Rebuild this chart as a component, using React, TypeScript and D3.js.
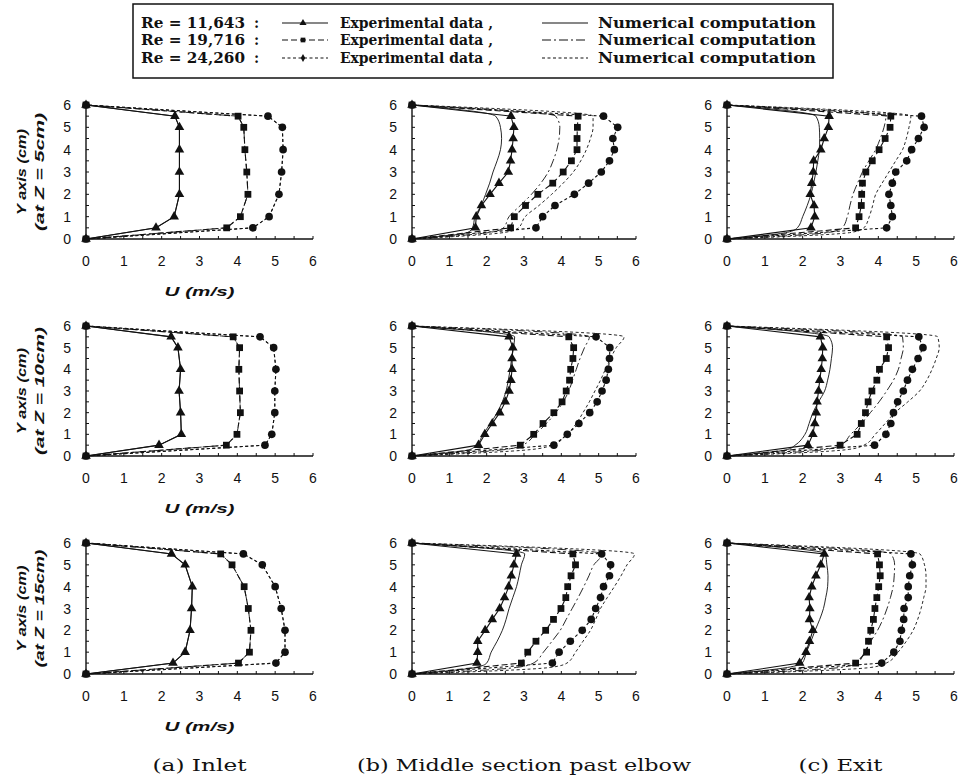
import React from 'react';
import * as d3 from 'd3';

// heights (cm) where the profiles were sampled
const yInlet = [0, 0.5, 1, 2, 3, 4, 5, 5.5, 6];
const yMeas = [0, 0.5, 1, 1.5, 2, 2.5, 3, 3.5, 4, 4.5, 5, 5.5, 6];
const yNum = [0, 0.3, 0.5, 1, 1.5, 2, 2.5, 3, 3.5, 4, 4.5, 5, 5.5, 6];
const axisTicks = [0, 1, 2, 3, 4, 5, 6];

const reNumbers = ['11,643', '19,716', '24,260'];
const zLabels = ['(at Z = 5cm)', '(at Z = 10cm)', '(at Z = 15cm)'];
const captions = ['(a) Inlet', '(b) Middle section past elbow', '(c) Exit'];

// U (m/s) — inlet, Z = 5cm
const z5InletExp1 = [0, 1.85, 2.33, 2.47, 2.47, 2.47, 2.47, 2.35, 0];
const z5InletExp2 = [0, 3.72, 4.08, 4.28, 4.25, 4.2, 4.17, 4.02, 0];
const z5InletExp3 = [0, 4.41, 4.84, 5.1, 5.17, 5.21, 5.19, 4.81, 0];
// middle section, Z = 5cm
const z5MidExp1 = [0, 1.7, 1.72, 1.86, 2.09, 2.33, 2.58, 2.64, 2.68, 2.71, 2.73, 2.65, 0];
const z5MidExp2 = [0, 2.64, 2.74, 3.04, 3.37, 3.77, 4.05, 4.27, 4.42, 4.42, 4.43, 4.45, 0];
const z5MidExp3 = [0, 3.32, 3.5, 3.83, 4.35, 4.73, 5.07, 5.29, 5.42, 5.38, 5.51, 5.13, 0];
const z5MidNum1 = [0, 1.5, 1.62, 1.69, 1.85, 1.97, 2.08, 2.17, 2.28, 2.37, 2.4, 2.37, 2.24, 0];
const z5MidNum2 = [0, 2.1, 2.45, 2.6, 2.9, 3.2, 3.45, 3.65, 3.78, 3.88, 3.94, 3.96, 3.85, 0];
const z5MidNum3 = [0, 2.5, 2.85, 3.03, 3.4, 3.74, 4.05, 4.32, 4.52, 4.67, 4.78, 4.85, 4.85, 0];
// exit, Z = 5cm
const z5ExitExp1 = [0, 2.22, 2.32, 2.3, 2.2, 2.24, 2.28, 2.29, 2.48, 2.57, 2.68, 2.7, 0];
const z5ExitExp2 = [0, 3.4, 3.49, 3.55, 3.56, 3.58, 3.67, 3.84, 4.02, 4.18, 4.31, 4.33, 0];
const z5ExitExp3 = [0, 4.22, 4.37, 4.33, 4.28, 4.37, 4.46, 4.75, 4.88, 5.06, 5.21, 5.14, 0];
const z5ExitNum1 = [0, 1.6, 1.86, 2.0, 2.12, 2.22, 2.29, 2.35, 2.4, 2.44, 2.45, 2.44, 2.35, 0];
const z5ExitNum2 = [0, 2.7, 3.05, 3.18, 3.25, 3.33, 3.45, 3.58, 3.75, 3.93, 4.05, 4.15, 4.2, 0];
const z5ExitNum3 = [0, 3.3, 3.62, 3.76, 3.85, 3.93, 4.1, 4.28, 4.46, 4.64, 4.74, 4.81, 4.86, 0];

// Z = 10cm
const z10InletExp1 = [0, 1.93, 2.52, 2.5, 2.46, 2.5, 2.43, 2.25, 0];
const z10InletExp2 = [0, 3.71, 3.99, 4.08, 4.06, 4.04, 4.06, 3.89, 0];
const z10InletExp3 = [0, 4.73, 4.91, 4.99, 4.99, 5.02, 4.96, 4.6, 0];
const z10MidExp1 = [0, 1.78, 1.95, 2.15, 2.35, 2.5, 2.6, 2.65, 2.68, 2.68, 2.7, 2.6, 0];
const z10MidExp2 = [0, 2.9, 3.26, 3.51, 3.8, 4.02, 4.13, 4.22, 4.25, 4.31, 4.33, 4.2, 0];
const z10MidExp3 = [0, 3.8, 4.16, 4.47, 4.76, 4.96, 5.09, 5.2, 5.26, 5.29, 5.3, 4.93, 0];
const z10MidNum1 = [0, 1.55, 1.72, 1.9, 2.1, 2.28, 2.42, 2.52, 2.58, 2.63, 2.67, 2.72, 2.75, 0];
const z10MidNum2 = [0, 2.5, 2.95, 3.3, 3.6, 3.85, 4.05, 4.2, 4.3, 4.4, 4.5, 4.62, 4.75, 0];
const z10MidNum3 = [0, 3.2, 3.75, 4.15, 4.4, 4.58, 4.75, 4.9, 5.05, 5.18, 5.32, 5.47, 5.68, 0];
const z10ExitExp1 = [0, 2.14, 2.27, 2.32, 2.36, 2.38, 2.42, 2.45, 2.49, 2.52, 2.53, 2.47, 0];
const z10ExitExp2 = [0, 2.99, 3.44, 3.55, 3.66, 3.73, 3.83, 3.96, 4.03, 4.21, 4.27, 4.22, 0];
const z10ExitExp3 = [0, 3.9, 4.2, 4.33, 4.4, 4.51, 4.66, 4.77, 4.9, 5.05, 5.18, 5.07, 0];
const z10ExitNum1 = [0, 1.6, 1.8, 2.06, 2.17, 2.27, 2.42, 2.58, 2.66, 2.72, 2.76, 2.79, 2.7, 0];
const z10ExitNum2 = [0, 2.6, 3.0, 3.27, 3.55, 3.79, 4.02, 4.22, 4.4, 4.53, 4.6, 4.66, 4.64, 0];
const z10ExitNum3 = [0, 3.2, 3.62, 3.92, 4.18, 4.44, 4.78, 5.09, 5.28, 5.42, 5.53, 5.61, 5.57, 0];

// Z = 15cm
const z15InletExp1 = [0, 2.3, 2.62, 2.75, 2.79, 2.81, 2.62, 2.26, 0];
const z15InletExp2 = [0, 4.03, 4.32, 4.36, 4.29, 4.18, 3.86, 3.56, 0];
const z15InletExp3 = [0, 5.02, 5.26, 5.26, 5.16, 5.0, 4.66, 4.16, 0];
const z15MidExp1 = [0, 1.74, 1.76, 1.76, 1.96, 2.15, 2.35, 2.48, 2.59, 2.66, 2.73, 2.8, 0];
const z15MidExp2 = [0, 2.93, 3.1, 3.32, 3.58, 3.79, 3.99, 4.12, 4.17, 4.26, 4.38, 4.31, 0];
const z15MidExp3 = [0, 3.76, 3.94, 4.24, 4.56, 4.8, 4.92, 5.05, 5.13, 5.29, 5.32, 5.08, 0];
const z15MidNum1 = [0, 1.7, 2.0, 2.12, 2.28, 2.42, 2.52, 2.6, 2.7, 2.8, 2.87, 2.93, 3.02, 0];
const z15MidNum2 = [0, 2.8, 3.25, 3.52, 3.75, 3.97, 4.13, 4.29, 4.45, 4.6, 4.74, 4.87, 5.1, 0];
const z15MidNum3 = [0, 3.7, 4.15, 4.38, 4.58, 4.78, 4.92, 5.05, 5.23, 5.42, 5.6, 5.76, 5.96, 0];
const z15ExitExp1 = [0, 1.92, 2.09, 2.18, 2.27, 2.18, 2.19, 2.17, 2.24, 2.35, 2.48, 2.57, 0];
const z15ExitExp2 = [0, 3.4, 3.69, 3.74, 3.8, 3.87, 3.91, 3.96, 4.01, 4.05, 4.03, 3.98, 0];
const z15ExitExp3 = [0, 4.09, 4.41, 4.57, 4.61, 4.67, 4.68, 4.79, 4.79, 4.83, 4.9, 4.86, 0];
const z15ExitNum1 = [0, 1.6, 1.99, 2.1, 2.22, 2.33, 2.45, 2.55, 2.61, 2.66, 2.67, 2.64, 2.6, 0];
const z15ExitNum2 = [0, 3.0, 3.45, 3.63, 3.8, 3.98, 4.12, 4.23, 4.32, 4.39, 4.42, 4.43, 4.34, 0];
const z15ExitNum3 = [0, 3.8, 4.21, 4.52, 4.74, 4.92, 5.04, 5.13, 5.2, 5.26, 5.26, 5.22, 5.1, 0];

// inlet: computed profile is the imposed measured one
const panels = [
  { row: 0, col: 0, expY: yInlet, exp: [z5InletExp1, z5InletExp2, z5InletExp3], numY: yInlet, num: [z5InletExp1, z5InletExp2, z5InletExp3] },
  { row: 0, col: 1, expY: yMeas, exp: [z5MidExp1, z5MidExp2, z5MidExp3], numY: yNum, num: [z5MidNum1, z5MidNum2, z5MidNum3] },
  { row: 0, col: 2, expY: yMeas, exp: [z5ExitExp1, z5ExitExp2, z5ExitExp3], numY: yNum, num: [z5ExitNum1, z5ExitNum2, z5ExitNum3] },
  { row: 1, col: 0, expY: yInlet, exp: [z10InletExp1, z10InletExp2, z10InletExp3], numY: yInlet, num: [z10InletExp1, z10InletExp2, z10InletExp3] },
  { row: 1, col: 1, expY: yMeas, exp: [z10MidExp1, z10MidExp2, z10MidExp3], numY: yNum, num: [z10MidNum1, z10MidNum2, z10MidNum3] },
  { row: 1, col: 2, expY: yMeas, exp: [z10ExitExp1, z10ExitExp2, z10ExitExp3], numY: yNum, num: [z10ExitNum1, z10ExitNum2, z10ExitNum3] },
  { row: 2, col: 0, expY: yInlet, exp: [z15InletExp1, z15InletExp2, z15InletExp3], numY: yInlet, num: [z15InletExp1, z15InletExp2, z15InletExp3] },
  { row: 2, col: 1, expY: yMeas, exp: [z15MidExp1, z15MidExp2, z15MidExp3], numY: yNum, num: [z15MidNum1, z15MidNum2, z15MidNum3] },
  { row: 2, col: 2, expY: yMeas, exp: [z15ExitExp1, z15ExitExp2, z15ExitExp3], numY: yNum, num: [z15ExitNum1, z15ExitNum2, z15ExitNum3] },
];

const W = 962;
const H = 782;
const colRange = [[86, 313], [412, 636], [727, 954]];
const rowRange = [[239, 105], [456, 326], [674, 543]];

const INK = '#111';
const expDash = [null, '6,3', '3,2.5'];
const numDash = [null, '9,3,2,3', '3,2.5'];
const expShape = [d3.symbolTriangle, d3.symbolSquare, d3.symbolCircle];
const expSize = [40, 46, 46];
const markerOrder = [0, 2, 1];

const sans = 'Liberation Sans, Arial, sans-serif';
const serif = 'DejaVu Serif, serif';

function Panel({ p }) {
  const x = d3.scaleLinear().domain([0, 6]).range(colRange[p.col]);
  const y = d3.scaleLinear().domain([0, 6]).range(rowRange[p.row]);
  const minor = d3.range(0, 6.01, 0.5);

  const lineFor = (ys) =>
    d3.line<number>()
      .x((d) => x(d))
      .y((d, i) => y(ys[i]));

  return (
    <g>
      {/* axes */}
      <line x1={x(0)} x2={x(0)} y1={y(0)} y2={y(6)} stroke={INK} strokeWidth={1.4} />
      <line x1={x(0)} x2={x(6)} y1={y(0)} y2={y(0)} stroke={INK} strokeWidth={1.4} />
      {minor.map((t) => (
        <line key={'yt' + t} x1={x(0)} x2={x(0) + 3} y1={y(t)} y2={y(t)} stroke={INK} strokeWidth={1} />
      ))}
      {minor.map((t) => (
        <line key={'xt' + t} x1={x(t)} x2={x(t)} y1={y(0)} y2={y(0) - 3} stroke={INK} strokeWidth={1} />
      ))}
      {axisTicks.map((t) => (
        <text key={'yl' + t} x={x(0) - 15} y={y(t) + 5} textAnchor="end" fontFamily={sans} fontSize={14} fill={INK}>
          {t}
        </text>
      ))}
      {axisTicks.map((t) => (
        <text key={'xl' + t} x={x(t)} y={y(0) + 27} textAnchor="middle" fontFamily={sans} fontSize={14} fill={INK}>
          {t}
        </text>
      ))}

      {/* numerical computation */}
      {p.num.map((s, k) => (
        <path
          key={'n' + k}
          d={lineFor(p.numY).curve(p.col === 0 ? d3.curveLinear : d3.curveMonotoneY)(s) || ''}
          fill="none"
          stroke={INK}
          strokeWidth={0.9}
          strokeDasharray={numDash[k] || undefined}
        />
      ))}

      {/* experimental data */}
      {p.exp.map((s, k) => (
        <path
          key={'e' + k}
          d={lineFor(p.expY)(s) || ''}
          fill="none"
          stroke={INK}
          strokeWidth={1.1}
          strokeDasharray={expDash[k] || undefined}
        />
      ))}
      {markerOrder.map((k) =>
        p.exp[k].map((v, i) => (
          <path
            key={'m' + k + '-' + i}
            transform={`translate(${x(v)},${y(p.expY[i])})`}
            d={d3.symbol().type(expShape[k]).size(expSize[k])() || ''}
            fill={INK}
          />
        ))
      )}
    </g>
  );
}

function Legend() {
  const rows = [28, 45, 63];
  const tri = d3.symbol().type(d3.symbolTriangle).size(22)() || '';
  const sq = d3.symbol().type(d3.symbolSquare).size(22)() || '';
  const dot = d3.symbol().type(d3.symbolDiamond).size(18)() || '';
  const marks = [tri, sq, dot];
  return (
    <g>
      <rect x={133} y={4} width={700} height={74} fill="none" stroke={INK} strokeWidth={1.5} />
      {rows.map((by, k) => (
        <g key={k}>
          <text x={141} y={by} fontFamily={serif} fontWeight="bold" fontSize={14} textLength={104} lengthAdjust="spacingAndGlyphs" fill={INK}>
            {`Re = ${reNumbers[k]}`}
          </text>
          <text x={254} y={by} fontFamily={serif} fontWeight="bold" fontSize={14} fill={INK}>:</text>
          <line x1={282} x2={328} y1={by - 5} y2={by - 5} stroke={INK} strokeWidth={1.2} strokeDasharray={expDash[k] || undefined} />
          <path transform={`translate(303,${by - 5})`} d={marks[k]} fill={INK} />
          <text x={340} y={by} fontFamily={serif} fontWeight="bold" fontSize={14} textLength={153} lengthAdjust="spacingAndGlyphs" fill={INK}>
            Experimental data ,
          </text>
          <line x1={542} x2={588} y1={by - 5} y2={by - 5} stroke={INK} strokeWidth={1.1} strokeDasharray={numDash[k] || undefined} />
          <text x={598} y={by} fontFamily={serif} fontWeight="bold" fontSize={14} textLength={218} lengthAdjust="spacingAndGlyphs" fill={INK}>
            Numerical computation
          </text>
        </g>
      ))}
    </g>
  );
}

export default function App() {
  const rowMid = rowRange.map((r) => (r[0] + r[1]) / 2);
  return (
    <svg width={W} height={H} style={{ position: 'absolute', left: 0, top: 0, background: '#fff' }}>
      <Legend />
      {panels.map((p, i) => (
        <Panel key={i} p={p} />
      ))}
      {rowMid.map((cy, r) => (
        <g key={'yl' + r}>
          <text
            transform={`translate(26,${cy}) rotate(-90)`}
            textAnchor="middle"
            fontFamily={sans}
            fontWeight="bold"
            fontStyle="italic"
            fontSize={13}
            textLength={86}
            lengthAdjust="spacingAndGlyphs"
            fill={INK}
          >
            Y axis (cm)
          </text>
          <text
            transform={`translate(44,${cy}) rotate(-90)`}
            textAnchor="middle"
            fontFamily={sans}
            fontWeight="bold"
            fontStyle="italic"
            fontSize={13}
            textLength={r === 1 ? 128 : 118}
            lengthAdjust="spacingAndGlyphs"
            fill={INK}
          >
            {zLabels[r]}
          </text>
          <text
            x={(colRange[0][0] + colRange[0][1]) / 2}
            y={rowRange[r][0] + 57}
            textAnchor="middle"
            fontFamily={sans}
            fontWeight="bold"
            fontStyle="italic"
            fontSize={13}
            textLength={70}
            lengthAdjust="spacingAndGlyphs"
            fill={INK}
          >
            U (m/s)
          </text>
        </g>
      ))}
      {captions.map((c, i) => (
        <text
          key={c}
          x={(colRange[i][0] + colRange[i][1]) / 2}
          y={771}
          textAnchor="middle"
          fontFamily={serif}
          fontSize={17}
          textLength={[94, 334, 84][i]}
          lengthAdjust="spacingAndGlyphs"
          fill={INK}
        >
          {c}
        </text>
      ))}
    </svg>
  );
}
